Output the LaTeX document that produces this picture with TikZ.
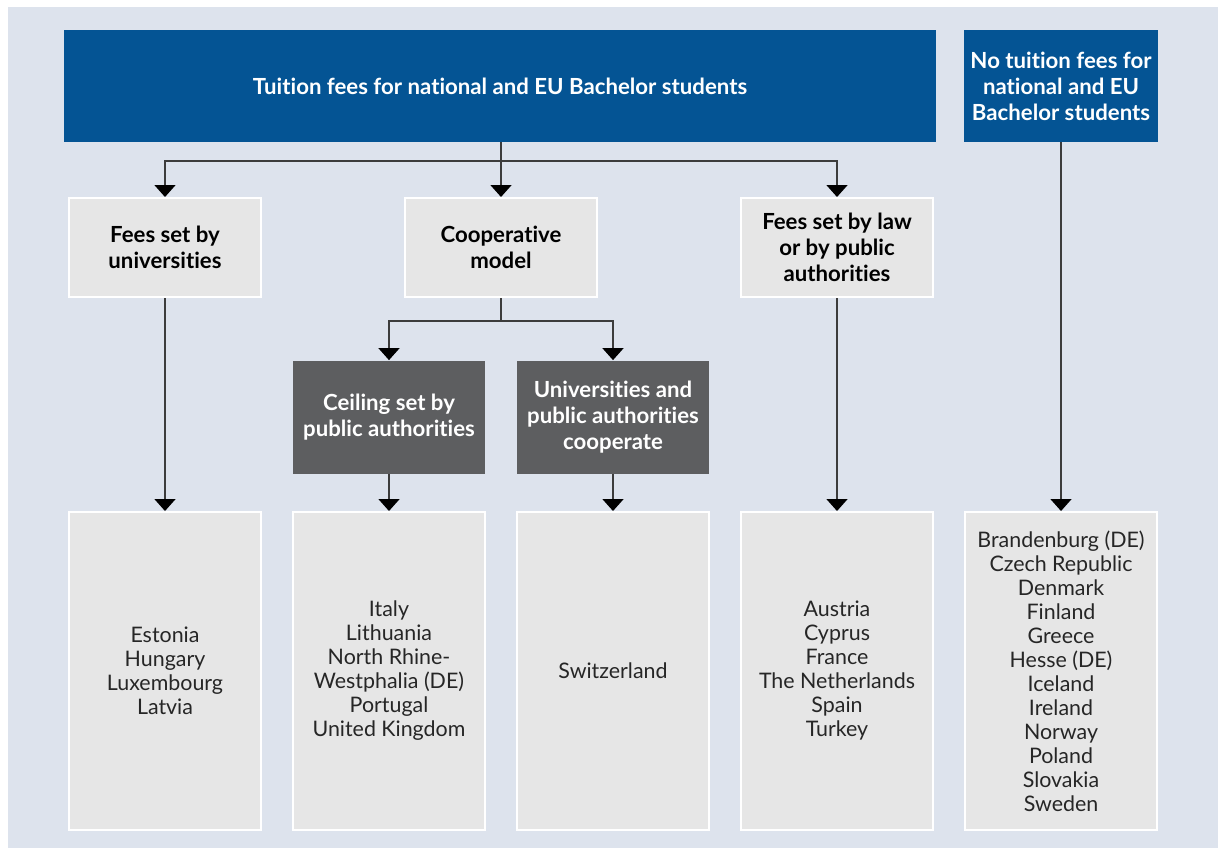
\documentclass[tikz,border=0pt]{standalone}
\usepackage{fontspec}
\setmainfont[Ligatures={NoCommon}]{Lato}
\usepackage{xcolor}
\usepackage{tikz}
\usetikzlibrary{arrows.meta, positioning, calc}
\definecolor{bgblue}{RGB}{221,227,237}
\definecolor{headblue}{RGB}{4,84,148}
\definecolor{boxgrey}{RGB}{230,230,230}
\definecolor{darkgrey}{RGB}{93,94,96}
\definecolor{linegrey}{RGB}{60,60,60}
\tikzstyle{head} = [rectangle, fill=headblue, text=white, inner sep=0pt, align=center, font=\bfseries\fontsize{11.1}{13}\selectfont]
\tikzstyle{model} = [rectangle, fill=boxgrey, draw=white, line width=1pt, minimum width=96pt, minimum height=49.5pt, align=center, font=\bfseries\fontsize{11.1}{13}\selectfont]
\tikzstyle{submodel} = [rectangle, fill=darkgrey, text=white, minimum width=96pt, minimum height=56.5pt, align=center, font=\bfseries\fontsize{11.1}{13}\selectfont]
\tikzstyle{countries} = [rectangle, fill=boxgrey, draw=white, line width=1pt, minimum width=96pt, minimum height=159pt, align=center, text=black!85, font=\fontsize{10.7}{12}\selectfont]
\tikzstyle{line} = [draw=linegrey, line width=0.8pt]
\tikzstyle{arrow} = [line, -{Triangle[width=10.5pt, length=6pt, color=black]}]

\begin{document}
\begin{tikzpicture}[x=0.5pt, y=-0.5pt]
    \useasboundingbox (0,0) rectangle (1218,848);
    \fill[bgblue] (8,7) rectangle (1218,848);

    % headers
    \node[head, minimum width=436pt, minimum height=56pt] (fees) at (500,86) {Tuition fees for national and EU Bachelor students};
    \node[head, minimum width=97pt, minimum height=56pt] (nofees) at (1061,86) {No tuition fees for\\national and EU\\Bachelor students};

    % models
    \node[model] (byuni) at (165,247.5) {Fees set by\\universities};
    \node[model] (coop) at (501,247.5) {Cooperative\\model};
    \node[model] (bylaw) at (837,247.5) {Fees set by law\\or by public\\authorities};

    \node[submodel] (ceiling) at (389,417) {Ceiling set by\\public authorities};
    \node[submodel] (together) at (613,417) {Universities and\\public authorities\\cooperate};

    % countries
    \node[countries] (list-1) at (165,671) {Estonia\\Hungary\\Luxembourg\\Latvia};
    \node[countries] (list-2) at (389,671) {Italy\\Lithuania\\North Rhine-\\Westphalia (DE)\\Portugal\\United Kingdom};
    \node[countries] (list-3) at (613,671) {Switzerland};
    \node[countries] (list-4) at (837,671) {Austria\\Cyprus\\France\\The Netherlands\\Spain\\Turkey};
    \node[countries] (list-5) at (1061,671) {Brandenburg (DE)\\Czech Republic\\Denmark\\Finland\\Greece\\Hesse (DE)\\Iceland\\Ireland\\Norway\\Poland\\Slovakia\\Sweden};

    \coordinate (split-1) at (500,161);
    \coordinate (split-2) at (501,321);

    \draw[arrow] (fees.south -| coop.north) -- (coop.north);
    \draw[arrow] (split-1) -| (byuni.north);
    \draw[arrow] (split-1) -| (bylaw.north);
    \draw[line] (coop.south) -- (split-2);
    \draw[arrow] (split-2) -| (ceiling.north);
    \draw[arrow] (split-2) -| (together.north);

    \draw[arrow] (byuni.south) -- (list-1.north);
    \draw[arrow] (ceiling.south) -- (list-2.north);
    \draw[arrow] (together.south) -- (list-3.north);
    \draw[arrow] (bylaw.south) -- (list-4.north);
    \draw[arrow] (nofees.south) -- (list-5.north);
\end{tikzpicture}
\end{document}
